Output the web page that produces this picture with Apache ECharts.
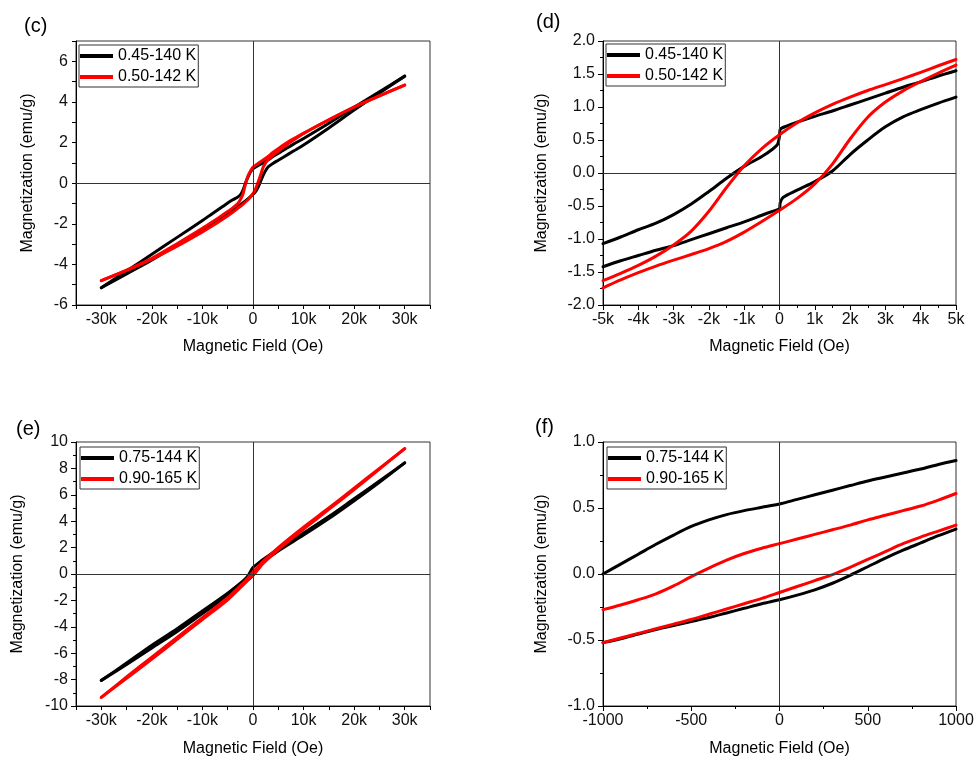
<!DOCTYPE html>
<html>
<head>
<meta charset="utf-8">
<script src="https://cdn.jsdelivr.net/npm/echarts@6/dist/echarts.min.js"></script>
<style>
  html, body { margin: 0; padding: 0; background: #fff; }
  #chart { width: 978px; height: 760px; }
</style>
</head>
<body>
<div id="chart"></div>
<script>
// ---- Panel (c): full loops, ±30 kOe ----
const cFieldDown = [30000, 25000, 20000, 15000, 10000, 8000, 6000, 4000, 3000, 2000, 1000, 0, -500, -1000, -1500, -2000, -2500, -3000, -4000, -5000, -6000, -8000, -10000, -15000, -20000, -25000, -30000];
const cFieldUp = [-30000, -25000, -20000, -15000, -10000, -8000, -6000, -4000, -3000, -2000, -1000, 0, 500, 1000, 1500, 2000, 2500, 3000, 4000, 5000, 6000, 8000, 10000, 15000, 20000, 25000, 30000];
const c045Down = [5.27, 4.5, 3.74, 2.95, 2.2, 1.92, 1.62, 1.32, 1.15, 1.0, 0.86, 0.71, 0.55, 0.3, 0.0, -0.35, -0.58, -0.68, -0.82, -0.98, -1.15, -1.49, -1.84, -2.67, -3.5, -4.33, -5.15];
const c045Up = [-5.15, -4.47, -3.78, -3.02, -2.28, -1.95, -1.63, -1.32, -1.15, -0.97, -0.77, -0.55, -0.42, -0.2, 0.08, 0.38, 0.62, 0.8, 0.98, 1.13, 1.28, 1.58, 1.88, 2.72, 3.6, 4.44, 5.27];
const c050Down = [4.83, 4.3, 3.75, 3.12, 2.45, 2.18, 1.88, 1.52, 1.32, 1.14, 0.97, 0.79, 0.6, 0.35, -0.05, -0.55, -0.82, -1.0, -1.22, -1.4, -1.57, -1.9, -2.22, -2.98, -3.7, -4.28, -4.8];
const c050Up = [-4.8, -4.3, -3.74, -3.1, -2.4, -2.1, -1.78, -1.43, -1.24, -1.04, -0.82, -0.52, -0.28, 0.04, 0.4, 0.78, 1.0, 1.15, 1.38, 1.58, 1.77, 2.12, 2.45, 3.12, 3.75, 4.3, 4.83];

// ---- Panel (d): central part, ±5 kOe ----
const dFieldDown045 = [5000, 4500, 4000, 3500, 3000, 2500, 2000, 1500, 1000, 500, 200, 20, 0, -50, -200, -500, -1000, -1500, -2000, -2500, -3000, -3500, -4000, -4500, -5000];
const dFieldUp045 = [-5000, -4500, -4000, -3500, -3000, -2500, -2000, -1500, -1000, -500, -200, 0, 20, 100, 500, 1000, 1500, 2000, 2500, 3000, 3500, 4000, 4500, 5000];
const d045Down = [1.55, 1.47, 1.38, 1.3, 1.21, 1.12, 1.03, 0.94, 0.86, 0.77, 0.71, 0.66, 0.56, 0.44, 0.36, 0.25, 0.1, -0.08, -0.28, -0.47, -0.63, -0.76, -0.86, -0.97, -1.07];
const d045Up = [-1.42, -1.33, -1.25, -1.17, -1.1, -1.01, -0.92, -0.83, -0.74, -0.64, -0.58, -0.54, -0.45, -0.37, -0.26, -0.13, 0.03, 0.28, 0.5, 0.7, 0.85, 0.96, 1.06, 1.15];
const dFieldDown050 = [5000, 4500, 4000, 3500, 3000, 2500, 2000, 1500, 1000, 500, 0, -500, -1000, -1500, -2000, -2500, -3000, -3500, -4000, -4500, -5000];
const dFieldUp050 = [-5000, -4500, -4000, -3500, -3000, -2500, -2000, -1500, -1000, -500, 0, 500, 1000, 1500, 2000, 2500, 3000, 3500, 4000, 4500, 5000];
const d050Down = [1.72, 1.625, 1.525, 1.43, 1.34, 1.25, 1.15, 1.04, 0.91, 0.76, 0.58, 0.37, 0.11, -0.22, -0.58, -0.88, -1.09, -1.26, -1.4, -1.52, -1.63];
const d050Up = [-1.74, -1.62, -1.51, -1.41, -1.32, -1.235, -1.145, -1.035, -0.895, -0.735, -0.565, -0.385, -0.165, 0.135, 0.515, 0.845, 1.075, 1.245, 1.385, 1.515, 1.635];

// ---- Panel (e): full loops, ±30 kOe ----
const eFieldDown = [30000, 25000, 20000, 15000, 10000, 5000, 2000, 1000, 0, -1000, -2000, -5000, -10000, -15000, -20000, -25000, -30000];
const eFieldUp = [-30000, -25000, -20000, -15000, -10000, -5000, -2000, -1000, 0, 1000, 2000, 5000, 10000, 15000, 20000, 25000, 30000];
const e075Down = [8.42, 7.05, 5.7, 4.35, 3.1, 1.9, 1.1, 0.8, 0.5, -0.15, -0.55, -1.45, -2.8, -4.15, -5.4, -6.75, -8.06];
const e075Up = [-8.06, -6.85, -5.6, -4.35, -3.0, -1.65, -0.8, -0.45, -0.1, 0.4, 0.9, 1.75, 2.95, 4.2, 5.55, 6.95, 8.42];
const e090Down = [9.5, 8.0, 6.5, 5.0, 3.55, 2.0, 0.95, 0.55, 0.15, -0.3, -0.7, -1.8, -3.3, -4.8, -6.3, -7.8, -9.35];
const e090Up = [-9.35, -7.9, -6.45, -4.95, -3.45, -1.95, -0.85, -0.45, -0.1, 0.35, 0.8, 1.85, 3.4, 4.9, 6.4, 7.95, 9.5];

// ---- Panel (f): central part, ±1000 Oe ----
const fField = [-1000, -900, -800, -700, -600, -500, -400, -300, -200, -100, 0, 100, 200, 300, 400, 500, 600, 700, 800, 900, 1000];
const f075Upper = [0.0, 0.075, 0.15, 0.225, 0.295, 0.36, 0.41, 0.45, 0.48, 0.505, 0.53, 0.565, 0.6, 0.635, 0.67, 0.705, 0.735, 0.765, 0.795, 0.83, 0.86];
const f075Lower = [-0.52, -0.49, -0.455, -0.42, -0.39, -0.36, -0.33, -0.295, -0.26, -0.225, -0.195, -0.16, -0.12, -0.07, -0.01, 0.055, 0.12, 0.18, 0.235, 0.29, 0.34];
const f090Upper = [-0.27, -0.235, -0.195, -0.15, -0.09, -0.02, 0.045, 0.105, 0.155, 0.195, 0.23, 0.265, 0.3, 0.335, 0.37, 0.41, 0.445, 0.48, 0.515, 0.56, 0.61];
const f090Lower = [-0.52, -0.485, -0.45, -0.415, -0.38, -0.345, -0.305, -0.265, -0.225, -0.185, -0.14, -0.095, -0.05, -0.005, 0.05, 0.11, 0.17, 0.23, 0.28, 0.325, 0.37];

const namesCD = ['0.45-140 K', '0.50-142 K'];
const namesEF = ['0.75-144 K', '0.90-165 K'];
const panelTags = ['(c)', '(d)', '(e)', '(f)'];
const xTitle = 'Magnetic Field (Oe)';
const yTitle = 'Magnetization (emu/g)';

const FONT = '"Liberation Sans", Arial, Helvetica, sans-serif';
const BLACK = '#000000';
const RED = '#ff0000';

// plot frames [left, top, width, height]
const frames = [
  [76, 41, 354, 264],
  [603, 41, 353, 264],
  [76, 442, 354, 264],
  [603, 442, 353, 264]
];

const grids = frames.map(f => ({
  left: f[0], top: f[1], width: f[2], height: f[3],
  show: true, borderColor: '#333', borderWidth: 1,
  backgroundColor: 'transparent',
  containLabel: false, outerBoundsMode: 'none'
}));

const kFmt = v => (v === 0 ? '0' : (v / 1000) + 'k');

function xAxisOf(gi, min, max, interval, fmt, minor) {
  return {
    type: 'value', gridIndex: gi, min, max, interval,
    name: xTitle, nameLocation: 'middle', nameGap: gi < 2 ? 34 : 35,
    nameTextStyle: { fontFamily: FONT, fontSize: 16, color: '#000' },
    axisLine: { show: true, onZero: false, lineStyle: { color: '#000', width: 1 } },
    axisTick: { show: true, inside: false, length: minor ? 5 : 4, lineStyle: { color: '#000' } },
    minorTick: { show: !!minor, splitNumber: 2, length: 3, lineStyle: { color: '#000' } },
    splitLine: { show: false },
    axisLabel: { fontFamily: FONT, fontSize: 16, color: '#111', margin: 7, formatter: fmt, hideOverlap: false }
  };
}

function yAxisOf(gi, min, max, interval, fmt, minor, gap) {
  return {
    type: 'value', gridIndex: gi, min, max, interval,
    name: yTitle, nameLocation: 'middle', nameGap: gap, nameRotate: 90,
    nameTextStyle: { fontFamily: FONT, fontSize: 16, color: '#000' },
    axisLine: { show: true, onZero: false, lineStyle: { color: '#000', width: 1 } },
    axisTick: { show: true, inside: false, length: minor ? 5 : 4, lineStyle: { color: '#000' } },
    minorTick: { show: !!minor, splitNumber: 2, length: 3, lineStyle: { color: '#000' } },
    splitLine: { show: false },
    axisLabel: { fontFamily: FONT, fontSize: 16, color: '#111', margin: 8, formatter: fmt, hideOverlap: false }
  };
}

const xAxes = [
  xAxisOf(0, -35000, 35000, 5000, v => (v % 10000 === 0 ? kFmt(v) : ''), false),
  xAxisOf(1, -5000, 5000, 1000, kFmt, true),
  xAxisOf(2, -35000, 35000, 5000, v => (v % 10000 === 0 ? kFmt(v) : ''), false),
  xAxisOf(3, -1000, 1000, 500, v => String(v), true)
];
const yAxes = [
  yAxisOf(0, -6, 7, 1, v => (v % 2 === 0 ? String(v) : ''), false, 40),
  yAxisOf(1, -2, 2, 0.5, v => v.toFixed(1), true, 53),
  yAxisOf(2, -10, 10, 2, v => String(v), true, 50),
  yAxisOf(3, -1, 1, 0.5, v => v.toFixed(1), true, 53)
];

const pairs = (xs, ys) => xs.map((x, i) => [x, ys[i]]);

function curve(name, gi, color, xs, ys, z) {
  return {
    type: 'line', name, xAxisIndex: gi, yAxisIndex: gi,
    data: pairs(xs, ys),
    symbol: 'none', showSymbol: false, smooth: 0.3,
    lineStyle: { color, width: 3, cap: 'round', join: 'round' },
    itemStyle: { color },
    emphasis: { disabled: true },
    z
  };
}

// zero reference lines through the origin of every panel
function zeroLines(gi) {
  return {
    type: 'line', name: 'zero-' + gi, xAxisIndex: gi, yAxisIndex: gi,
    data: [], symbol: 'none', silent: true, z: 1,
    markLine: {
      silent: true, symbol: ['none', 'none'], animation: false,
      label: { show: false },
      lineStyle: { color: '#333', width: 1, type: 'solid' },
      emphasis: { disabled: true },
      data: [{ xAxis: 0 }, { yAxis: 0 }]
    }
  };
}

const series = [
  zeroLines(0), zeroLines(1), zeroLines(2), zeroLines(3),
  curve(namesCD[0], 0, BLACK, cFieldDown, c045Down, 3),
  curve(namesCD[0], 0, BLACK, cFieldUp, c045Up, 3),
  curve(namesCD[1], 0, RED, cFieldDown, c050Down, 4),
  curve(namesCD[1], 0, RED, cFieldUp, c050Up, 4),

  curve(namesCD[0], 1, BLACK, dFieldDown045, d045Down, 3),
  curve(namesCD[0], 1, BLACK, dFieldUp045, d045Up, 3),
  curve(namesCD[1], 1, RED, dFieldDown050, d050Down, 4),
  curve(namesCD[1], 1, RED, dFieldUp050, d050Up, 4),

  curve(namesEF[0], 2, BLACK, eFieldDown, e075Down, 3),
  curve(namesEF[0], 2, BLACK, eFieldUp, e075Up, 3),
  curve(namesEF[1], 2, RED, eFieldDown, e090Down, 4),
  curve(namesEF[1], 2, RED, eFieldUp, e090Up, 4),

  curve(namesEF[0], 3, BLACK, fField, f075Upper, 3),
  curve(namesEF[0], 3, BLACK, fField, f075Lower, 3),
  curve(namesEF[1], 3, RED, fField, f090Upper, 4),
  curve(namesEF[1], 3, RED, fField, f090Lower, 4)
];

function legendAt(left, top, names) {
  return {
    left, top, orient: 'vertical',
    data: names.map(n => ({ name: n, icon: 'rect' })),
    itemWidth: 33, itemHeight: 4, itemGap: 5,
    padding: [3, 2, 2, 1],
    borderColor: '#333', borderWidth: 1, backgroundColor: '#fff',
    selectedMode: false,
    textStyle: { fontFamily: FONT, fontSize: 16, color: '#000' },
    z: 10
  };
}

const legends = [
  legendAt(79, 45, namesCD),
  legendAt(606, 44, namesCD),
  legendAt(80, 447, namesEF),
  legendAt(607, 447, namesEF)
];

const tagPos = [[24, 16], [536, 12], [16, 419], [535, 417]];
const titles = panelTags.map((t, i) => ({
  text: t, left: tagPos[i][0], top: tagPos[i][1], padding: 0,
  textStyle: { fontFamily: FONT, fontSize: 20, fontWeight: 'normal', color: '#000' }
}));

const chart = echarts.init(document.getElementById('chart'), null, { renderer: 'canvas' });
chart.setOption({
  animation: false,
  backgroundColor: '#ffffff',
  title: titles,
  legend: legends,
  grid: grids,
  xAxis: xAxes,
  yAxis: yAxes,
  tooltip: { show: false },
  series
});
</script>
</body>
</html>
